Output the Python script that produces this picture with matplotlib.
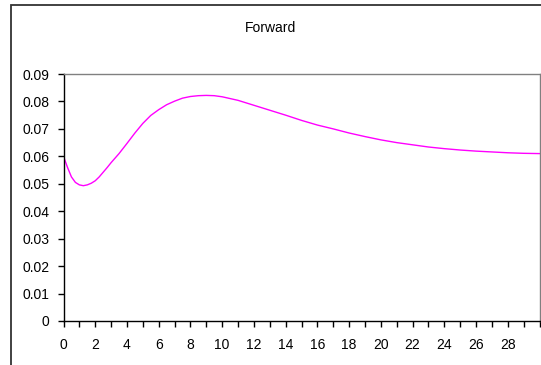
#####################################################################################
import matplotlib.pyplot as plt
from matplotlib.patches import Rectangle
from matplotlib.ticker import MultipleLocator, FixedLocator

#####################################################################################
# Forward curve (maturity in years, forward rate)
maturity = [
    0, 0.25, 0.5, 0.75, 1.0, 1.25, 1.5, 1.75, 2.0, 2.25, 2.5, 2.75, 3.0, 3.5,
    4.0, 4.5, 5.0, 5.5, 6.0, 6.5, 7.0, 7.5, 8.0, 8.5, 9.0, 9.5, 10, 11, 12,
    13, 14, 15, 16, 17, 18, 19, 20, 21, 22, 23, 24, 25, 26, 27, 28, 29, 30,
]
forward = [
    0.0600, 0.0560, 0.0525, 0.0505, 0.0496, 0.0493, 0.0496, 0.0502, 0.0511,
    0.0525, 0.0542, 0.0559, 0.0577, 0.0610, 0.0647, 0.0685, 0.0720, 0.0749,
    0.0770, 0.0788, 0.0801, 0.0812, 0.0818, 0.0821, 0.0822, 0.0821, 0.0817,
    0.0804, 0.0786, 0.0768, 0.0750, 0.0731, 0.0714, 0.0700, 0.0685, 0.0672,
    0.0660, 0.0650, 0.0642, 0.0634, 0.0628, 0.0623, 0.0619, 0.0616, 0.0613,
    0.0611, 0.0610,
]
x_labels = list(range(0, 30, 2))
y_ticks = [0, 0.01, 0.02, 0.03, 0.04, 0.05, 0.06, 0.07, 0.08, 0.09]
title = "Forward"

# ---------------------------------------------------------------------------
plt.rcParams["font.family"] = ["Liberation Sans", "DejaVu Sans"]
W, H = 541, 365
fig = plt.figure(figsize=(W / 100, H / 100), dpi=100)

# chart frame, open on the right and bottom
fig.patches.append(Rectangle((11 / W, -0.1), 1.2, 1 - 5 / H + 0.1,
                             transform=fig.transFigure, fill=False,
                             edgecolor="#333333", linewidth=1.3))

ax = fig.add_axes([63.5 / W, 1 - 321 / H, (539.5 - 63.5) / W, (321 - 74) / H])
ax.plot(maturity, forward, color="#FF00FF", linewidth=1.0)

# ---------------------------------------------------------------------------
ax.set_xlim(0, 30)
ax.set_ylim(0, 0.09)
ax.xaxis.set_major_locator(FixedLocator(x_labels))
ax.set_xticklabels([str(v) for v in x_labels])
ax.xaxis.set_minor_locator(MultipleLocator(1))
ax.set_yticks(y_ticks)
ax.set_yticklabels(["0" if v == 0 else f"{v:.2f}" for v in y_ticks])

ax.tick_params(axis="both", which="both", direction="out", length=4,
               width=1, color="black", labelsize=10)
ax.tick_params(axis="x", which="major", pad=8)
ax.tick_params(axis="y", pad=6)

for side in ("left", "bottom"):
    ax.spines[side].set_color("black")
    ax.spines[side].set_linewidth(1.0)
for side in ("top", "right"):
    ax.spines[side].set_color("#808080")
    ax.spines[side].set_linewidth(1.0)

fig.text(270 / W, 1 - 28 / H, title, ha="center", va="center", fontsize=10)

fig.savefig("out.png", dpi=100)
#####################################################################################
